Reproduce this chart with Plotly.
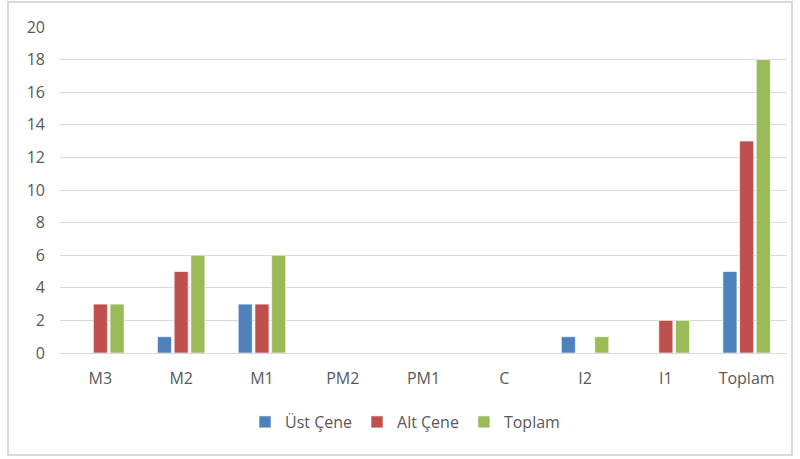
import plotly.graph_objects as go

# Tooth positions and counts for each jaw
categories = ["M3", "M2", "M1", "PM2", "PM1", "C", "I2", "I1", "Toplam"]
ust_cene = [0, 1, 3, 0, 0, 0, 1, 0, 5]
alt_cene = [3, 5, 3, 0, 0, 0, 0, 2, 13]
toplam = [3, 6, 6, 0, 0, 0, 1, 2, 18]

series = [
    ("Üst Çene", ust_cene, "#4F81BD"),
    ("Alt Çene", alt_cene, "#C0504D"),
    ("Toplam", toplam, "#9BBB59"),
]

W, H = 800, 459
L, R, T, B = 60, 13, 27, 106
pw, ph = W - L - R, H - T - B

fig = go.Figure()
for name, vals, color in series:
    fig.add_trace(go.Bar(
        x=categories, y=vals, name=name,
        marker=dict(color=color, line=dict(color="rgba(255,255,255,0.6)", width=1)),
    ))

font = dict(family="Open Sans, Liberation Sans, sans-serif", size=16, color="#595959")

fig.update_layout(
    width=W, height=H,
    margin=dict(l=L, r=R, t=T, b=B),
    paper_bgcolor="white", plot_bgcolor="white",
    barmode="group", bargap=0.38, bargroupgap=0.16,
    font=font,
    showlegend=True,
    legend=dict(
        orientation="h", x=(405 - L) / pw, xanchor="center",
        y=-(422 - (H - B)) / ph, yanchor="middle",
        font=dict(size=16, color="#595959"),
        itemwidth=30, tracegroupgap=0,
    ),
    xaxis=dict(
        showgrid=False, showline=False, zeroline=False,
        ticks="", tickfont=dict(size=16, color="#595959"),
        ticklabelstandoff=14,
    ),
    yaxis=dict(
        range=[0, 20], dtick=2, showgrid=True, gridcolor="#D9D9D9", gridwidth=1,
        zeroline=True, zerolinecolor="#D9D9D9", zerolinewidth=1,
        showline=False, ticks="", tickfont=dict(size=16, color="#595959"),
        ticklabelstandoff=14,
    ),
    shapes=[dict(
        type="rect", xref="paper", yref="paper",
        x0=(8 - L) / pw, x1=(792 - L) / pw,
        y0=-(455 - (H - B)) / ph, y1=(H - B - 2) / ph,
        line=dict(color="#D9D9D9", width=2), fillcolor="rgba(0,0,0,0)",
        layer="below",
    )],
)

fig.write_html("out.html")
